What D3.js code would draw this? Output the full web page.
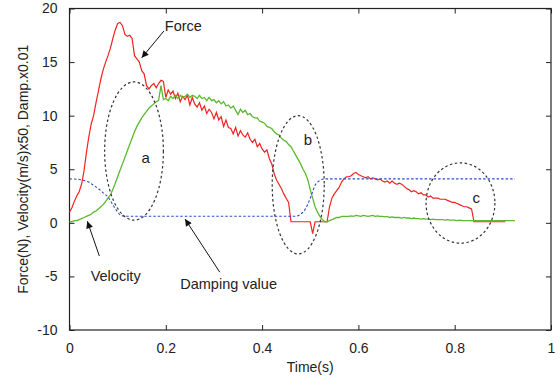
<!DOCTYPE html>
<html><head><meta charset="utf-8">
<script src="https://cdn.jsdelivr.net/npm/d3@7"></script>
<style>body{margin:0;background:#fff}svg{display:block}text{font-family:"Liberation Sans",Arial,sans-serif}</style>
</head><body>
<script>
const xTicks=[0,0.2,0.4,0.6,0.8,1];
const xTickLabels=["0","0.2","0.4","0.6","0.8","1"];
const yTicks=[-10,-5,0,5,10,15,20];
const yTickLabels=["-10","-5","0","5","10","15","20"];
const sampleTime=[0,0.005,0.01,0.015,0.02,0.025,0.03,0.035,0.04,0.045,0.05,0.055,0.06,0.065,0.07,0.075,0.08,0.085,0.09,0.095,0.1,0.105,0.11,0.115,0.12,0.125,0.13,0.135,0.14,0.145,0.15,0.155,0.16,0.165,0.17,0.175,0.18,0.185,0.19,0.195,0.2,0.205,0.21,0.215,0.22,0.225,0.23,0.235,0.24,0.245,0.25,0.255,0.26,0.265,0.27,0.275,0.28,0.285,0.29,0.295,0.3,0.305,0.31,0.315,0.32,0.325,0.33,0.335,0.34,0.345,0.35,0.355,0.36,0.365,0.37,0.375,0.38,0.385,0.39,0.395,0.4,0.405,0.41,0.415,0.42,0.425,0.43,0.435,0.44,0.445,0.45,0.455,0.46,0.465,0.47,0.475,0.48,0.485,0.49,0.495,0.5,0.505,0.51,0.515,0.52,0.525,0.53,0.535,0.54,0.545,0.55,0.555,0.56,0.565,0.57,0.575,0.58,0.585,0.59,0.595,0.6,0.605,0.61,0.615,0.62,0.625,0.63,0.635,0.64,0.645,0.65,0.655,0.66,0.665,0.67,0.675,0.68,0.685,0.69,0.695,0.7,0.705,0.71,0.715,0.72,0.725,0.73,0.735,0.74,0.745,0.75,0.755,0.76,0.765,0.77,0.775,0.78,0.785,0.79,0.795,0.8,0.805,0.81,0.815,0.82,0.825,0.83,0.835,0.84,0.845,0.85,0.855,0.86,0.865,0.87,0.875,0.88,0.885,0.89,0.895,0.9,0.905,0.91,0.915,0.92,0.925];
const force=[1.0,1.4,2.0,2.5,2.9,3.6,4.8,6.5,8.0,9.2,10.0,11.2,12.3,13.4,14.3,15.0,15.6,16.3,17.2,18.0,18.6,18.7,18.4,17.6,17.4,17.5,17.2,15.6,15.3,15.0,14.2,13.9,12.8,12.5,12.8,13.0,12.6,13.0,13.3,13.2,
11.7,12.4,12.0,12.3,11.6,12.1,11.3,11.8,11.5,11.9,11.0,11.7,11.1,10.8,11.2,10.5,10.9,10.2,10.6,10.3,9.7,10.3,9.6,9.9,9.0,9.6,8.9,8.8,8.3,8.9,8.1,8.6,8.2,8.0,8.4,7.8,7.5,7.8,7.1,7.4,6.9,6.6,6.8,6.0,5.5,4.6,4.0,3.6,3.2,2.7,2.3,1.9,
0.1,0.1,0.1,0.1,0.1,0.1,0.1,0.1,0.1,-1.0,0.1,0.1,0.1,0.1,0.1,0.1,
1.5,2.3,2.7,3.0,3.3,3.8,4.1,4.3,4.3,4.4,4.6,4.7,4.5,4.4,4.3,4.2,4.3,4.1,4.2,4.1,4.0,4.1,3.9,3.8,3.9,3.7,3.9,3.7,3.6,3.7,3.6,3.4,3.2,3.1,2.9,3.0,2.9,2.7,2.8,2.6,2.6,2.4,2.5,2.3,2.3,2.3,2.2,2.2,2.2,2.1,2.0,1.9,1.9,1.8,1.7,1.6,1.5,1.5,1.4,1.3,
0.1,0.1,0.1,0.1,0.1,0.1,0.1,0.1,0.1,0.1,0.1,0.1,0.1,0.1];
const velocity=[0.1,0.1,0.2,0.2,0.3,0.4,0.5,0.6,0.7,0.8,1.0,1.1,1.3,1.5,1.7,2.0,2.3,2.6,3.1,3.7,4.3,4.9,5.5,6.1,6.7,7.3,7.9,8.5,9.0,9.4,9.8,10.1,10.4,10.7,10.9,11.1,11.3,11.4,12.8,11.5,
11.6,11.4,11.8,11.6,11.9,11.6,11.9,11.7,11.8,12.0,11.7,11.9,11.8,11.6,11.9,11.6,11.7,11.4,11.7,11.4,11.5,11.2,11.4,11.1,11.3,10.9,11.0,10.7,10.9,10.5,10.1,10.6,10.3,10.5,10.1,10.2,9.9,9.8,9.8,9.5,9.4,9.3,9.0,8.9,8.8,8.5,8.3,8.2,7.9,7.7,7.6,7.3,
7.1,6.7,6.3,5.9,5.5,5.0,4.6,4.0,3.1,2.3,1.5,1.0,0.6,0.3,0.1,0.1,
0.2,0.3,0.4,0.5,0.5,0.6,0.6,0.6,0.6,0.65,0.6,0.7,0.65,0.6,0.7,0.65,0.6,0.65,0.7,0.6,0.65,0.6,0.6,0.55,0.6,0.5,0.55,0.5,0.5,0.5,0.45,0.5,0.45,0.45,0.4,0.45,0.4,0.4,0.35,0.4,0.35,0.35,0.3,0.35,0.3,0.3,0.3,0.3,0.25,0.3,0.25,0.25,0.25,0.2,0.25,0.2,0.2,0.2,0.2,0.2,
0.2,0.2,0.2,0.2,0.2,0.2,0.2,0.2,0.2,0.2,0.2,0.2,0.2,0.2,0.2,0.2,0.2,0.2];
const dampTime=[0,0.02,0.03,0.04,0.05,0.06,0.07,0.08,0.09,0.1,0.105,0.11,0.12,0.47,0.48,0.49,0.5,0.505,0.51,0.52,0.53,0.925];
const damping=[4.1,4.05,3.95,3.8,3.5,3.2,2.8,2.4,1.7,1.0,0.75,0.65,0.62,0.62,0.8,1.3,2.3,2.9,3.5,3.95,4.1,4.1];

const W=560,H=381;
const L=69.5,T=8.5,R=551,B=330;
const svg=d3.select("body").append("svg").attr("width",W).attr("height",H);
const x=d3.scaleLinear().domain([0,1]).range([L,R]);
const y=d3.scaleLinear().domain([-10,20]).range([B,T]);

svg.append("g").attr("transform",`translate(0,${B})`)
  .call(d3.axisBottom(x).tickValues(xTicks).tickFormat((d,i)=>xTickLabels[i]).tickSizeInner(-5).tickSizeOuter(0).tickPadding(13));
svg.append("g").attr("transform",`translate(0,${T})`)
  .call(d3.axisTop(x).tickValues(xTicks).tickFormat("").tickSizeInner(-5).tickSizeOuter(0));
svg.append("g").attr("transform",`translate(${L},0)`)
  .call(d3.axisLeft(y).tickValues(yTicks).tickFormat((d,i)=>yTickLabels[i]).tickSizeInner(-5).tickSizeOuter(0).tickPadding(12));
svg.append("g").attr("transform",`translate(${R},0)`)
  .call(d3.axisRight(y).tickValues(yTicks).tickFormat("").tickSizeInner(-5).tickSizeOuter(0));
svg.selectAll(".domain").remove();
svg.selectAll(".tick line").attr("stroke","#222").attr("stroke-width",1);
svg.selectAll(".tick text").attr("font-size",14).attr("fill","#222").attr("font-family","'Liberation Sans',Arial,sans-serif");
svg.append("rect").attr("x",L).attr("y",T).attr("width",R-L).attr("height",B-T)
  .attr("fill","none").attr("stroke","#222").attr("stroke-width",1.2);

const line=d3.line().x(d=>x(d[0])).y(d=>y(d[1]));
const g=svg.append("g");
g.append("path").datum(sampleTime.map((t,i)=>[t,force[i]]).filter(d=>d[1]!==undefined)).attr("d",line)
  .attr("fill","none").attr("stroke","#f02222").attr("stroke-width",1.2);
g.append("path").datum(sampleTime.map((t,i)=>[t,velocity[i]]).filter(d=>d[1]!==undefined)).attr("d",line)
  .attr("fill","none").attr("stroke","#5cb82e").attr("stroke-width",1.3);
g.append("path").datum(dampTime.map((t,i)=>[t,damping[i]])).attr("d",d3.line().x(d=>x(d[0])).y(d=>y(d[1])).curve(d3.curveMonotoneX))
  .attr("fill","none").attr("stroke","#2b4fc8").attr("stroke-width",1.1).attr("stroke-dasharray","2.5,2");

const ell=[{cx:0.134,cy:6.7,rx:0.061,ry:6.45,lab:"a",lx:0.158,ly:6.0},
           {cx:0.475,cy:3.55,rx:0.054,ry:6.45,lab:"b",lx:0.495,ly:7.6},
           {cx:0.812,cy:1.85,rx:0.0715,ry:3.75,lab:"c",lx:0.845,ly:2.2}];
ell.forEach(e=>{
  svg.append("ellipse").attr("cx",x(e.cx)).attr("cy",y(e.cy))
    .attr("rx",x(e.cx+e.rx)-x(e.cx)).attr("ry",y(e.cy)-y(e.cy+e.ry))
    .attr("fill","none").attr("stroke","#333").attr("stroke-width",1.2).attr("stroke-dasharray","2.5,2.5");
  svg.append("text").attr("x",x(e.lx)).attr("y",y(e.ly)).attr("text-anchor","middle").attr("dominant-baseline","middle")
    .attr("font-size",15).attr("fill","#222").text(e.lab);
});

svg.append("defs").append("marker").attr("id","ah").attr("viewBox","0 0 10 10").attr("refX",10).attr("refY",5)
  .attr("markerWidth",9).attr("markerHeight",7).attr("markerUnits","userSpaceOnUse").attr("orient","auto")
  .append("path").attr("d","M0,0L10,5L0,10z").attr("fill","#111");
const arrows=[{x1:0.196,y1:17.9,x2:0.150,y2:15.4,text:"Force",tx:0.198,ty:17.9,anchor:"start"},
              {x1:0.062,y1:-3.1,x2:0.037,y2:0.15,text:"Velocity",tx:0.044,ty:-5.4,anchor:"start"},
              {x1:0.312,y1:-4.6,x2:0.240,y2:0.35,text:"Damping value",tx:0.230,ty:-6.2,anchor:"start"}];
arrows.forEach(a=>{
  svg.append("line").attr("x1",x(a.x1)).attr("y1",y(a.y1)).attr("x2",x(a.x2)).attr("y2",y(a.y2))
    .attr("stroke","#111").attr("stroke-width",1).attr("marker-end","url(#ah)");
  svg.append("text").attr("x",x(a.tx)).attr("y",y(a.ty)).attr("text-anchor",a.anchor)
    .attr("font-size",14.5).attr("fill","#222").text(a.text);
});

svg.append("text").attr("x",(L+R)/2).attr("y",372).attr("text-anchor","middle").attr("font-size",14).attr("fill","#222").text("Time(s)");
svg.append("text").attr("transform",`translate(28,${(T+B)/2}) rotate(-90)`).attr("text-anchor","middle").attr("font-size",14).attr("fill","#222")
  .text("Force(N), Velocity(m/s)x50, Damp.x0.01");
</script>
</body></html>
